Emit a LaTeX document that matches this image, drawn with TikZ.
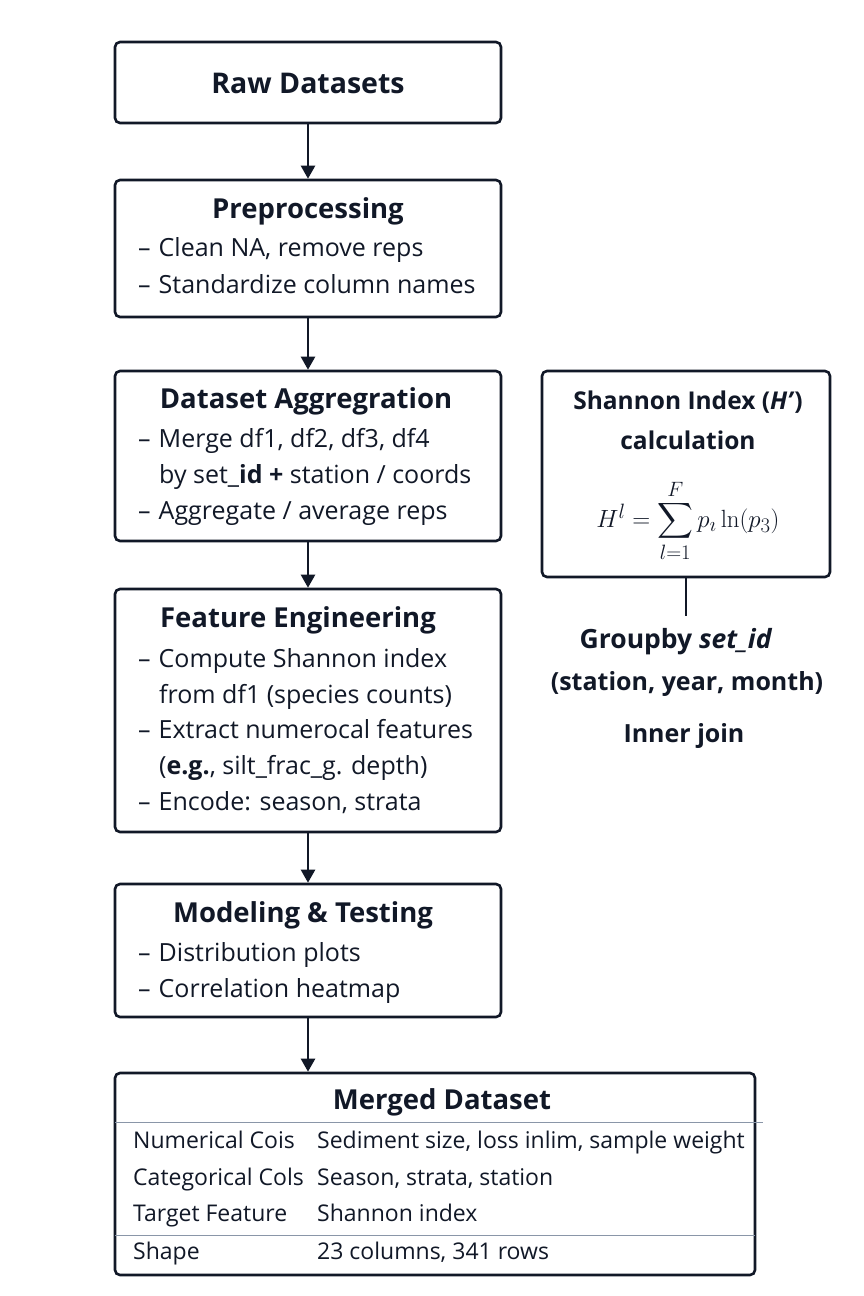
\documentclass[tikz,border=0pt]{standalone}
\usepackage{amsmath}
\usepackage[no-math]{fontspec}
\setmainfont{Open Sans}
\usetikzlibrary{arrows.meta}
\definecolor{ink}{HTML}{111827}
\definecolor{rule}{HTML}{8A96A8}
\tikzset{
  box/.style={draw=ink, line width=2.6pt, rounded corners=5pt, fill=white, minimum width=386pt, inner sep=0pt},
  ttl/.style={font=\fontsize{27.5}{32}\selectfont\bfseries, text=ink, inner sep=0pt, anchor=center},
  bul/.style={font=\fontsize{25}{30}\selectfont, text=ink, inner sep=0pt, anchor=west, text height=18pt, text depth=5pt},
  cell/.style={font=\fontsize{23}{27}\selectfont, text=ink, inner sep=0pt, anchor=west, text height=16.5pt, text depth=4.5pt},
  lbl/.style={font=\fontsize{25}{30}\selectfont\bfseries, text=ink, inner sep=0pt, anchor=center},
  flow/.style={draw=ink, line width=2.4pt, -{Triangle[width=14pt,length=13pt]}},
}
\begin{document}
\begin{tikzpicture}[x=1pt,y=-1pt]
\useasboundingbox (0,0) rectangle (864,1296);
\fill[white] (0,0) rectangle (864,1296);

% Raw Datasets
\node[box, minimum height=81pt] (raw) at (308,82.5) {};
\node[ttl, font=\fontsize{28.5}{33}\selectfont\bfseries] (rawt) at (308,83) {Raw Datasets};

% Preprocessing
\node[box, minimum height=137pt] (pre) at (308,248.5) {};
\node[ttl] (pret) at (308,211) {Preprocessing};
\node[bul] (pre1) at (138,250) {–\hspace{8pt}Clean NA, remove reps};
\node[bul] (pre2) at (138,287) {–\hspace{8pt}Standardize column names};

% Dataset Aggregation
\node[box, minimum height=170pt] (agg) at (308,456) {};
\node[ttl] (aggt) at (306,401) {Dataset Aggregration};
\node[bul] (agg1) at (138,441) {–\hspace{8pt}Merge df1, df2, df3, df4};
\node[bul] (agg2) at (159,477) {by set\_\textbf{id} \textbf{+} station / coords};
\node[bul] (agg3) at (138,513) {–\hspace{8pt}Aggregate / average reps};

% Feature Engineering
\node[box, minimum height=243pt] (fe) at (308,710.5) {};
\node[ttl] (fet) at (298,620) {Feature Engineering};
\node[bul] (fe1) at (138,661) {–\hspace{8pt}Compute Shannon index};
\node[bul] (fe2) at (159,697) {from df1 (species counts)};
\node[bul] (fe3) at (138,732) {–\hspace{8pt}Extract numerocal features};
\node[bul] (fe4) at (159,768) {(\textbf{e.g.}, silt\_frac\_g. depth)};
\node[bul] (fe5) at (138,804) {–\hspace{8pt}Encode: season, strata};

% Modeling & Testing
\node[box, minimum height=133pt] (mt) at (308,950.5) {};
\node[ttl] (mtt) at (303,915) {Modeling \& Testing};
\node[bul] (mt1) at (138,955) {–\hspace{8pt}Distribution plots};
\node[bul] (mt2) at (138,991) {–\hspace{8pt}Correlation heatmap};

% Merged Dataset
\node[box, minimum width=640pt, minimum height=202pt] (md) at (435,1174) {};
\node[ttl] (mdt) at (442,1102) {Merged Dataset};
\coordinate (h1a) at (115,1122);
\coordinate (h1b) at (763,1122);
\coordinate (h2a) at (115,1235);
\coordinate (h2b) at (755,1235);
\draw[rule, line width=1pt] (h1a) -- (h1b);
\draw[rule, line width=1pt] (h2a) -- (h2b);
\node[cell] (c11) at (133,1142) {Numerical Cois};
\node[cell] (c12) at (317,1142) {Sediment size, loss inlim, sample weight};
\node[cell] (c21) at (133,1179) {Categorical Cols};
\node[cell] (c22) at (317,1179) {Season, strata, station};
\node[cell] (c31) at (133,1215) {Target Feature};
\node[cell] (c32) at (317,1215) {Shannon index};
\node[cell] (c41) at (133,1253) {Shape};
\node[cell] (c42) at (317,1253) {23 columns, 341 rows};

% Shannon box
\node[box, minimum width=288pt, minimum height=206pt] (sh) at (686,474) {};
\node[ttl, font=\fontsize{24.5}{29}\selectfont\bfseries] (sht1) at (688,402) {Shannon Index (\textit{H'})};
\node[ttl, font=\fontsize{24.5}{29}\selectfont\bfseries] (sht2) at (688,440) {calculation};
\node[inner sep=0pt, text=ink, font=\fontsize{24.88}{30}\selectfont] (shf) at (688,521) {$H^{l} = \displaystyle\sum_{l=1}^{F} p_{\imath}\ln(p_{3})$};
\coordinate (shl) at (686,616);
\draw[ink, line width=2.4pt] (sh.south) -- (shl);
\node[lbl, font=\fontsize{26.5}{31}\selectfont\bfseries] (g1) at (676,642) {Groupby \textit{set\_id}};
\node[lbl] (g2) at (687,684) {(station, year, month)};
\node[lbl] (g3) at (684,736) {Inner join};

% Arrows
\draw[flow] (raw.south) -- (pre.north);
\draw[flow] (pre.south) -- (agg.north);
\draw[flow] (agg.south) -- (fe.north);
\draw[flow] (fe.south) -- (mt.north);
\draw[flow] (mt.south) -- (md.north -| mt.south);
\end{tikzpicture}
\end{document}
